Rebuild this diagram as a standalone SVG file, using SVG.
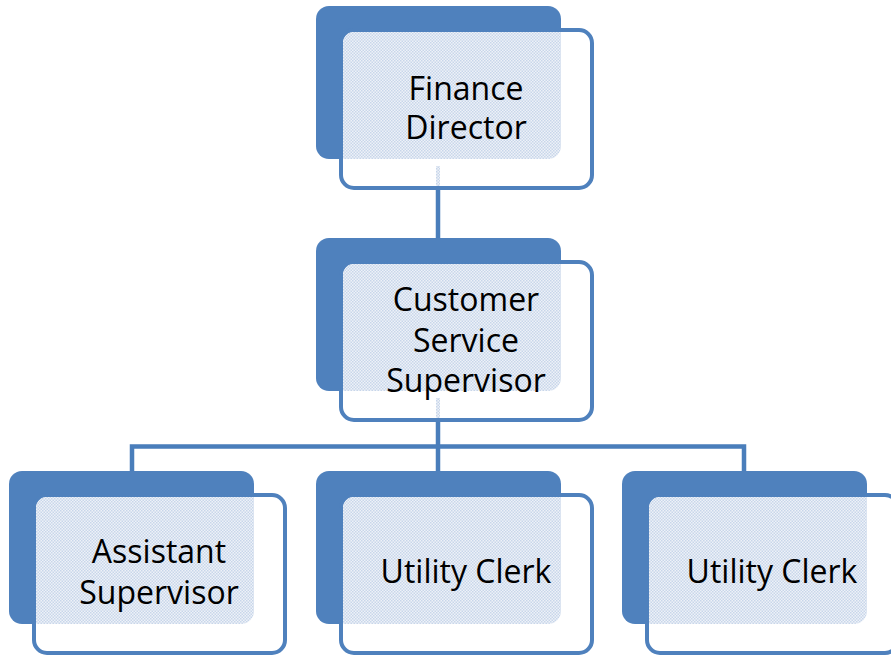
<svg xmlns="http://www.w3.org/2000/svg" xmlns:xlink="http://www.w3.org/1999/xlink" width="891" height="656" viewBox="0 0 891 656">
  <style>
    .back { fill: #4F81BD; }
    .front { fill: #FFFFFF; stroke: #4F81BD; stroke-width: 4; }
    .tint { fill: url(#dots); }
    .link { fill: none; stroke: #4A7EBB; stroke-width: 4.5; }
    .label { font-family: "Open Sans", "Noto Sans", sans-serif; font-size: 32px; fill: #000000; text-anchor: middle; }
  </style>
  <defs>
    <!-- fine speckle where the back card shows through the front card -->
    <pattern id="dots" width="3" height="3" patternUnits="userSpaceOnUse">
      <rect width="3" height="3" fill="#EEF2F8"/>
      <rect x="0" y="0" width="1.5" height="1.5" fill="#C8D6EA"/>
      <rect x="1.5" y="1.5" width="1.5" height="1.5" fill="#C8D6EA"/>
    </pattern>
    <clipPath id="frontInner">
      <rect x="27" y="26" width="247" height="154" rx="11"/>
    </clipPath>
    <!-- one card: solid back plate, outlined front card, tinted overlap -->
    <g id="card">
      <rect class="back" x="0" y="0" width="245" height="153" rx="13"/>
      <rect class="front" x="25" y="24" width="251" height="158" rx="13"/>
      <rect class="tint" x="0" y="0" width="245" height="153" rx="13" clip-path="url(#frontInner)"/>
    </g>
    <!-- faint trace of the outgoing link seen through the front card -->
    <rect id="trace" class="tint" x="120" y="160" width="4" height="20"/>
  </defs>

  <g id="connectors">
    <path class="link" d="M438,188 V240"/>
    <path class="link" d="M438,421 V473"/>
    <path class="link" d="M132,473 V446.5 H744 V473"/>
  </g>

  <g id="finance-director" transform="translate(316,6)">
    <use xlink:href="#card"/>
    <use xlink:href="#trace"/>
    <text class="label" x="150" y="94">Finance</text>
    <text class="label" x="150" y="133">Director</text>
  </g>

  <g id="customer-service-supervisor" transform="translate(316,238)">
    <use xlink:href="#card"/>
    <use xlink:href="#trace"/>
    <text class="label" x="150" y="73">Customer</text>
    <text class="label" x="150" y="114">Service</text>
    <text class="label" x="150" y="154">Supervisor</text>
  </g>

  <g id="assistant-supervisor" transform="translate(9,471)">
    <use xlink:href="#card"/>
    <text class="label" x="150" y="92">Assistant</text>
    <text class="label" x="150" y="133">Supervisor</text>
  </g>

  <g id="utility-clerk-1" transform="translate(316,471)">
    <use xlink:href="#card"/>
    <text class="label" x="150" y="112">Utility Clerk</text>
  </g>

  <g id="utility-clerk-2" transform="translate(622,471)">
    <use xlink:href="#card"/>
    <text class="label" x="150" y="112">Utility Clerk</text>
  </g>
</svg>
